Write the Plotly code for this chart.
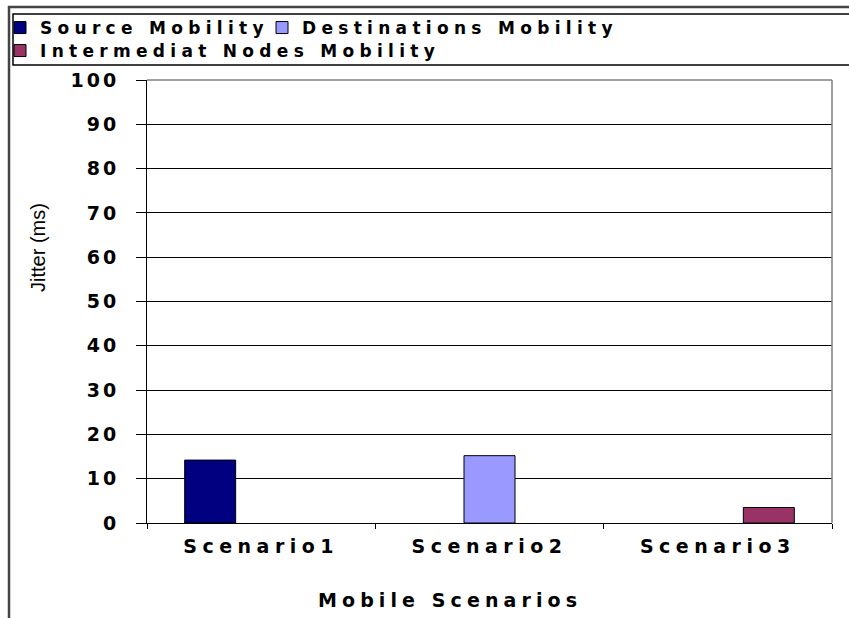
import plotly.graph_objects as go

# ---- data ----
categories = ["Scenario1", "Scenario2", "Scenario3"]
series_names = ["Source Mobility", "Destinations Mobility", "Intermediat Nodes Mobility"]
source_mobility = [14.2, None, None]
destinations_mobility = [None, 15.2, None]
intermediat_mobility = [None, None, 3.5]
y_ticks = [0, 10, 20, 30, 40, 50, 60, 70, 80, 90, 100]
x_title = "Mobile Scenarios"
y_title = "Jitter (ms)"

colors = ["#000080", "#9999FF", "#993366"]

W, H = 849, 618
L, R, T, B = 147, 832, 80, 523  # plot area pixel box
FONT = "DejaVu Sans"


def spaced(t, ls):
    return f'<span style="letter-spacing:{ls}px">{t}</span>'


def px(xp):
    return (xp - L) / (R - L)


def py(yp):
    return (B - yp) / (B - T)


fig = go.Figure()
values = [source_mobility, destinations_mobility, intermediat_mobility]
legend_ids = ["legend", "legend2", "legend3"]
for name, vals, col, lg in zip(series_names, values, colors, legend_ids):
    fig.add_trace(go.Bar(
        x=categories, y=vals, name=spaced(name, 5.3), legend=lg,
        marker=dict(color=col, line=dict(color="black", width=1)),
    ))

leg_font = dict(family=FONT, size=17, weight="bold", color="black")


def leg(x_px, y_px):
    return dict(
        orientation="h", xref="container", yref="container",
        x=x_px / W, y=1 - y_px / H, xanchor="left", yanchor="top",
        font=leg_font, bgcolor="rgba(0,0,0,0)", borderwidth=0,
    )


fig.update_layout(
    width=W, height=H,
    margin=dict(l=L, r=W - R, t=T, b=H - B, pad=0, autoexpand=False),
    paper_bgcolor="white", plot_bgcolor="white",
    barmode="group", bargap=0.33, bargroupgap=0,
    font=dict(family=FONT, color="black", size=17),
    legend=leg(-5, 10),
    legend2=leg(262, 10),
    legend3=leg(-5, 33),
    showlegend=True,
)

fig.update_yaxes(
    range=[0, 100], tickvals=y_ticks,
    ticktext=[spaced(str(v), 3) for v in y_ticks],
    ticks="outside", ticklen=10, tickcolor="black", tickwidth=1,
    showline=True, linecolor="black", linewidth=1,
    showgrid=True, gridcolor="black", gridwidth=1,
    zeroline=False, ticklabelstandoff=13,
    tickfont=dict(family=FONT, size=19, weight="bold", color="black"),
)
fig.update_xaxes(
    tickvals=categories, ticktext=[spaced(c, 5.5) for c in categories],
    ticks="outside", ticklen=5, tickcolor="black", tickson="boundaries",
    showline=True, linecolor="black", linewidth=1, showgrid=False,
    ticklabelstandoff=6,
    tickfont=dict(family=FONT, size=19, weight="bold", color="black"),
)

# axis titles as annotations (positioned like the reference)
fig.add_annotation(text=spaced(x_title, 5.1), xref="paper", yref="paper",
                   x=px(450), y=py(600), showarrow=False,
                   xanchor="center", yanchor="middle",
                   font=dict(family=FONT, size=19, weight="bold", color="black"))
fig.add_annotation(text=y_title, xref="paper", yref="paper",
                   x=px(38), y=py(247), showarrow=False, textangle=-90,
                   xanchor="center", yanchor="middle",
                   font=dict(family="Liberation Sans", size=20, color="black"))

# frames
shapes = [
    # outer chart frame
    dict(type="rect", xref="paper", yref="paper",
         x0=px(9), x1=px(880), y0=py(650), y1=py(7),
         line=dict(color="#444444", width=2.5), layer="below"),
    # legend frame
    dict(type="rect", xref="paper", yref="paper",
         x0=px(13), x1=px(880), y0=py(65), y1=py(14),
         line=dict(color="black", width=1.5), layer="below"),
    # plot area gray border (top, right)
    dict(type="line", xref="paper", yref="paper", x0=0, x1=1, y0=1, y1=1,
         line=dict(color="#808080", width=1.5), layer="above"),
    dict(type="line", xref="paper", yref="paper", x0=1, x1=1, y0=0, y1=1,
         line=dict(color="#808080", width=1.5), layer="above"),
]
fig.update_layout(shapes=shapes)

fig.write_html("out.html", config={"displayModeBar": False},
               post_script="document.body.style.margin='0px';")
